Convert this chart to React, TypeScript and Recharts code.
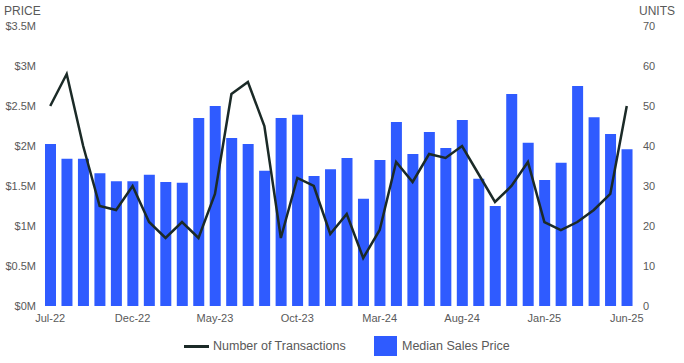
import { ComposedChart, Bar, Line, XAxis, YAxis } from 'recharts';

const months = [
  'Jul-22', 'Aug-22', 'Sep-22', 'Oct-22', 'Nov-22', 'Dec-22',
  'Jan-23', 'Feb-23', 'Mar-23', 'Apr-23', 'May-23', 'Jun-23',
  'Jul-23', 'Aug-23', 'Sep-23', 'Oct-23', 'Nov-23', 'Dec-23',
  'Jan-24', 'Feb-24', 'Mar-24', 'Apr-24', 'May-24', 'Jun-24',
  'Jul-24', 'Aug-24', 'Sep-24', 'Oct-24', 'Nov-24', 'Dec-24',
  'Jan-25', 'Feb-25', 'Mar-25', 'Apr-25', 'May-25', 'Jun-25',
];

// median sales price, $
const medianPrice = [
  2025000, 1840000, 1840000, 1660000, 1560000, 1560000,
  1640000, 1550000, 1540000, 2350000, 2500000, 2100000,
  2025000, 1690000, 2350000, 2390000, 1625000, 1710000,
  1850000, 1340000, 1825000, 2300000, 1900000, 2175000,
  1975000, 2325000, 1590000, 1250000, 2650000, 2040000,
  1575000, 1790000, 2750000, 2360000, 2150000, 1960000,
];

// number of transactions
const transactions = [
  50, 58, 40, 25, 24, 30,
  21, 17, 21, 17, 28, 53,
  56, 45, 17, 32, 30, 18,
  23, 12, 19, 36, 31, 38,
  37, 40, 33, 26, 30, 36,
  21, 19, 21, 24, 28, 50,
];

const priceTicks = [0, 500000, 1000000, 1500000, 2000000, 2500000, 3000000, 3500000];
const unitTicks = [0, 10, 20, 30, 40, 50, 60, 70];

const data = months.map((m, i) => ({
  month: m,
  price: medianPrice[i],
  units: transactions[i],
}));

const BAR = '#2f5bff';
const LINE = '#1b2a27';
const TEXT = '#595959';
const FONT = '"Liberation Sans", Arial, sans-serif';

const fmtPrice = (v: number) => `$${v / 1000000}M`;

export default function App() {
  return (
    <div style={{ position: 'absolute', left: 0, top: 0, width: 684, height: 363, fontFamily: FONT, background: '#fff' }}>
      <span style={{ position: 'absolute', left: 4, top: 4, fontSize: 12, color: TEXT }}>PRICE</span>
      <span style={{ position: 'absolute', left: 639, top: 4, fontSize: 12, color: TEXT }}>UNITS</span>
      <ComposedChart
        width={684}
        height={363}
        data={data}
        margin={{ top: 26, right: 0, left: 0, bottom: 35 }}
        barCategoryGap={0}
      >
        <XAxis
          dataKey="month"
          interval={4}
          axisLine={false}
          tickLine={false}
          height={22}
          tickSize={6}
          tick={{ fontSize: 11, fill: TEXT, fontFamily: FONT }}
        />
        <YAxis
          yAxisId="price"
          orientation="left"
          width={42}
          domain={[0, 3500000]}
          ticks={priceTicks}
          tickFormatter={fmtPrice}
          axisLine={false}
          tickLine={false}
          tickSize={4}
          tick={{ fontSize: 11, fill: TEXT, fontFamily: FONT }}
        />
        <YAxis
          yAxisId="units"
          orientation="right"
          width={49}
          domain={[0, 70]}
          ticks={unitTicks}
          axisLine={false}
          tickLine={false}
          tick={{ fontSize: 11, fill: TEXT, fontFamily: FONT }}
        />
        <Bar yAxisId="price" dataKey="price" fill={BAR} barSize={11} isAnimationActive={false} />
        <Line
          yAxisId="units"
          dataKey="units"
          type="linear"
          stroke={LINE}
          strokeWidth={2.5}
          dot={false}
          activeDot={false}
          isAnimationActive={false}
        />
      </ComposedChart>
      {/* legend */}
      <span style={{ position: 'absolute', left: 184, top: 345, width: 25, height: 3, background: LINE }} />
      <span style={{ position: 'absolute', left: 213, top: 338, fontSize: 12.5, lineHeight: '16px', color: TEXT, whiteSpace: 'nowrap' }}>
        Number of Transactions
      </span>
      <span style={{ position: 'absolute', left: 374, top: 336, width: 23, height: 20, background: BAR }} />
      <span style={{ position: 'absolute', left: 402, top: 338, fontSize: 12.5, lineHeight: '16px', color: TEXT, whiteSpace: 'nowrap' }}>
        Median Sales Price
      </span>
    </div>
  );
}
